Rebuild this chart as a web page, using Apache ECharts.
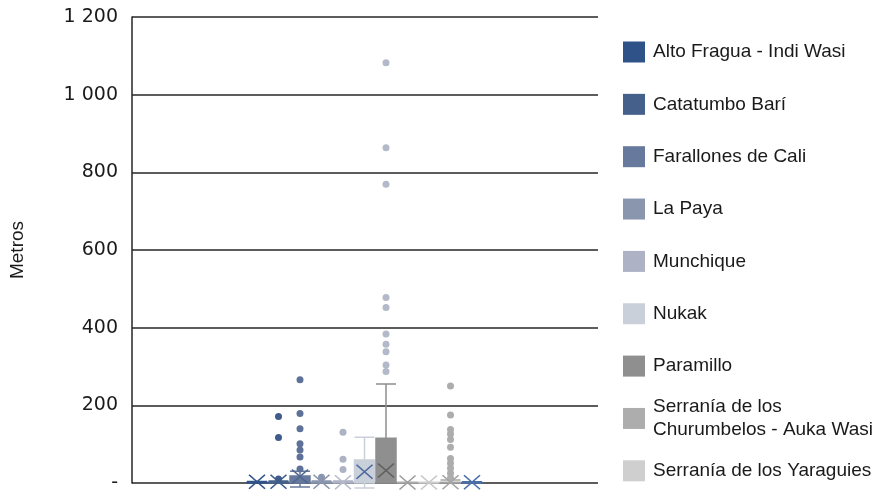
<!DOCTYPE html>
<html>
<head>
<meta charset="utf-8">
<script src="https://cdn.jsdelivr.net/npm/echarts@6/dist/echarts.min.js"></script>
<style>html,body{margin:0;padding:0;background:#fff}#c{width:885px;height:493px}</style>
</head>
<body>
<div id="c"></div>
<script>
// ---- data ----
const seriesNames = ['Alto Fragua - Indi Wasi', 'Catatumbo Barí', 'Farallones de Cali', 'La Paya', 'Munchique', 'Nukak', 'Paramillo', 'Serranía de los Churumbelos - Auka Wasi', 'Serranía de los Yaraguies', 'Serie 10', 'Serie 11'];
const legendCount = 9;
const boxMin = [0, 0, -10, 0, 0, -13, 0, 0, 0, 0, 0];
const boxQ1  = [0, 0, 0, 0, 0, 0, 0, 0, 0, 0, 0];
const boxMed = [0, 0, 5, 0, 0, 2, 10, 0, 0, 0, 0];
const boxQ3  = [2, 2, 18, 2, 2, 59, 115, 1, 1, 2, 1];
const boxMax = [4, 5, 30, 5, 5, 118, 255, 2, 2, 8, 3];
const means  = [3, 3, 17, 3, 2, 29, 32, 1, 1, 2, 2];
const outliers = [
  [],
  [171, 117, 10],
  [266, 179, 140, 101, 85, 67, 36],
  [15],
  [131, 61, 35],
  [],
  [1082, 863, 769, 478, 452, 384, 357, 338, 304, 287],
  [],
  [],
  [250, 175, 138, 126, 112, 92, 63, 51, 38, 25, 13],
  []
];
const yTicks = [0, 200, 400, 600, 800, 1000, 1200];

// ---- styles ----
const boxColors     = ['#2F5289', '#46608C', '#67799C', '#8A96AE', '#ADB3C5', '#C9D0D9', '#8F8F8F', '#ADADAD', '#CFCFCF', '#A5A5A5', '#4A6FA8'];
const outlierColors = ['#2F5289', '#3F5C8C', '#5E7199', '#8A96AE', '#ADB3C5', '#C9D0D9', '#B3B9C9', '#ADADAD', '#CFCFCF', '#ADADAD', '#4A6FA8'];
const meanColors    = ['#2F5289', '#3F5C8C', '#4F6691', '#8A95AD', '#B5BBCA', '#4A6A9E', '#5F5F5F', '#9E9E9E', '#C8C8C8', '#A5A5A5', '#4A6EA6'];

const FONT = 'Liberation Sans';
const catIdx = seriesNames.map((_, i) => i);

const series = [];
series.push({
  type: 'boxplot', name: 'Caja', xAxisIndex: 1, yAxisIndex: 1,
  boxWidth: [20, 20], z: 3,
  data: catIdx.map(i => ({
    value: [boxMin[i], boxQ1[i], boxMed[i], boxQ3[i], boxMax[i]],
    itemStyle: { color: boxColors[i], borderColor: boxColors[i], borderWidth: 1.5 }
  })),
  emphasis: { disabled: true }
});
catIdx.forEach(i => {
  series.push({
    type: 'scatter', name: seriesNames[i], xAxisIndex: 1, yAxisIndex: 1,
    symbol: 'circle', symbolSize: 7, z: 4,
    itemStyle: { color: outlierColors[i], opacity: 1 },
    emphasis: { disabled: true },
    data: outliers[i].map(v => [i, v])
  });
});
series.push({
  type: 'scatter', name: 'Media', xAxisIndex: 1, yAxisIndex: 1,
  symbol: 'path://M0,0L10,10M10,0L0,10', symbolSize: [16, 14], z: 5,
  emphasis: { disabled: true },
  data: catIdx.map(i => ({
    value: [i, means[i]],
    itemStyle: { color: 'rgba(0,0,0,0)', borderColor: meanColors[i], borderWidth: 1.5, opacity: 1 }
  }))
});

const legends = [];
for (let i = 0; i < legendCount; i++) {
  const twoLine = seriesNames[i].indexOf('Churumbelos') >= 0;
  const center = 52 + i * 52.35;
  legends.push({
    orient: 'vertical', left: 623, top: center - (twoLine ? 23 : 11.5), padding: 0,
    itemWidth: 22, itemHeight: 21, icon: 'rect', selectedMode: false,
    data: [{ name: seriesNames[i], itemStyle: { color: boxColors[i], opacity: 1 } }],
    formatter: n => n === 'Serranía de los Churumbelos - Auka Wasi' ? 'Serranía de los\nChurumbelos - Auka Wasi' : n,
    textStyle: { fontFamily: FONT, fontSize: 19, color: '#1a1a1a', lineHeight: 23, padding: [0, 0, 0, 3] }
  });
}

const chart = echarts.init(document.getElementById('c'), null, { renderer: 'canvas' });
chart.setOption({
  animation: false,
  backgroundColor: '#ffffff',
  legend: legends,
  grid: [
    { left: 130, right: 287, top: 17, bottom: 10 },
    { left: 246.25, width: 236.5, top: 17, bottom: 10 }
  ],
  xAxis: [
    { gridIndex: 0, type: 'category', data: [''], show: false },
    { gridIndex: 1, type: 'category', data: seriesNames, show: false }
  ],
  yAxis: [
    {
      gridIndex: 0, type: 'value', min: yTicks[0], max: yTicks[yTicks.length - 1], interval: 200,
      name: 'Metros', nameLocation: 'middle', nameGap: 105,
      nameTextStyle: { fontFamily: FONT, fontSize: 19, color: '#1a1a1a' },
      axisLine: { show: true, lineStyle: { color: '#262626', width: 1.5 } },
      axisTick: { show: false },
      splitLine: { show: true, lineStyle: { color: '#262626', width: 1.5 } },
      axisLabel: {
        margin: 14, fontFamily: 'DejaVu Sans', fontSize: 19, color: '#1a1a1a',
        formatter: v => v === 0 ? '-' : String(v).replace(/\B(?=(\d{3})+(?!\d))/g, ' ')
      }
    },
    { gridIndex: 1, type: 'value', min: yTicks[0], max: yTicks[yTicks.length - 1], show: false, splitLine: { show: false } }
  ],
  series: series
});
</script>
</body>
</html>
